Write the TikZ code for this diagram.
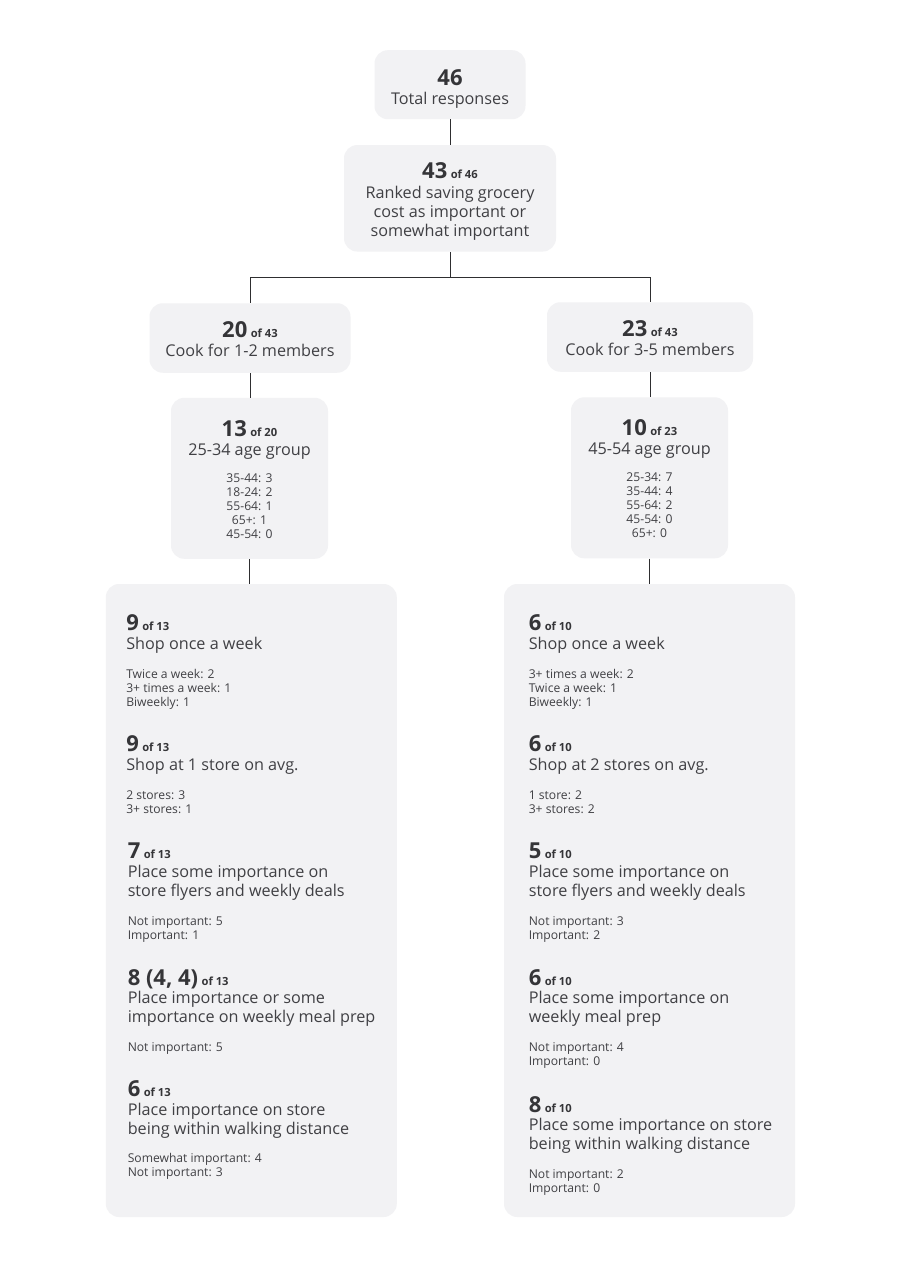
\documentclass[tikz,border=0pt]{standalone}
\usepackage{fontspec}
\setmainfont{Open Sans}
\definecolor{boxfill}{HTML}{F2F2F4}
\definecolor{numcol}{HTML}{353538}
\definecolor{txtcol}{HTML}{404044}
\definecolor{linecol}{HTML}{2E2E30}
\newcommand\numf{\bfseries\fontsize{16.5}{18}\selectfont}
\newcommand\offf{\bfseries\fontsize{8.4}{10}\selectfont}
\newcommand\ttlf{\fontsize{12.15}{14}\selectfont}
\newcommand\detf{\fontsize{9.1}{10}\selectfont}
\newcommand\nofm[2]{{\numf #1}\hspace{2.6pt}{\offf of #2}}
\begin{document}
\begin{tikzpicture}[x=0.75pt,y=-0.75pt,
  box/.style={fill=boxfill, draw=none, rounded corners=10pt, inner sep=0pt},
  conn/.style={draw=linecol, line width=0.75pt},
  numtxt/.style={text=numcol, inner sep=0pt, anchor=base},
  ttl/.style={text=txtcol, inner sep=0pt, anchor=base, font=\ttlf},
  det/.style={text=txtcol, inner sep=0pt, anchor=base, font=\detf},
  numl/.style={numtxt, anchor=base west},
  ttll/.style={ttl, anchor=base west},
  detl/.style={det, anchor=base west}]
\useasboundingbox (0,0) rectangle (900,1270);
\fill[white] (0,0) rectangle (900,1270);
% boxes
\node[box, minimum width={151*0.75pt}, minimum height={69*0.75pt}] (A) at (450,84.7) {};
\node[box, minimum width={212*0.75pt}, minimum height={106.5*0.75pt}] (B) at (450,198.3) {};
\node[box, minimum width={201*0.75pt}, minimum height={69.5*0.75pt}] (C) at (250,338) {};
\node[box, minimum width={206*0.75pt}, minimum height={69.5*0.75pt}] (D) at (650,337) {};
\node[box, minimum width={157*0.75pt}, minimum height={161*0.75pt}] (E) at (249.5,478.3) {};
\node[box, minimum width={157*0.75pt}, minimum height={161*0.75pt}] (F) at (649.5,477.8) {};
\node[box, minimum width={291*0.75pt}, minimum height={633*0.75pt}] (G) at (251.3,900.5) {};
\node[box, minimum width={291*0.75pt}, minimum height={633*0.75pt}] (H) at (649.5,900.5) {};
% connectors
\coordinate (fork) at (450,277);
\draw[conn] (A.south) -- (B.north);
\draw[conn] (B.south) -- (fork) -| (C.north);
\draw[conn] (fork) -| (D.north);
\draw[conn] (C.south) -- (C.south |- E.north);
\draw[conn] (D.south) -- (D.south |- F.north);
\draw[conn] (E.south) -- (E.south |- G.north);
\draw[conn] (F.south) -- (F.south |- H.north);
% box A
\node[numtxt] (a1) at (450,85) {\numf 46};
\node[ttl] (a2) at (450,104) {Total responses};
% box B
\node[numtxt] (b1) at (450,178) {\nofm{43}{46}};
\node[ttl] (b2) at (450,198) {Ranked saving grocery};
\node[ttl] (b3) at (450,217.3) {cost as important or};
\node[ttl] (b4) at (450,236) {somewhat important};
% box C, D
\node[numtxt] (c1) at (250,337.7) {\nofm{20}{43}};
\node[ttl] (c2) at (250,356.7) {Cook for 1-2 members};
\node[numtxt] (d1) at (650,336) {\nofm{23}{43}};
\node[ttl] (d2) at (650,355) {Cook for 3-5 members};
% box E
\node[numtxt] (e1) at (249.5,436) {\nofm{13}{20}};
\node[ttl] (e2) at (249.5,455.7) {25-34 age group};
\node[det] (e3) at (249.5,482.3) {35-44: 3};
\node[det] (e4) at (249.5,496.3) {18-24: 2};
\node[det] (e5) at (249.5,510.3) {55-64: 1};
\node[det] (e6) at (249.5,524.3) {65+: 1};
\node[det] (e7) at (249.5,538.3) {45-54: 0};
% box F
\node[numtxt] (f1) at (649.5,435.3) {\nofm{10}{23}};
\node[ttl] (f2) at (649.5,454.3) {45-54 age group};
\node[det] (f3) at (649.5,481) {25-34: 7};
\node[det] (f4) at (649.5,495) {35-44: 4};
\node[det] (f5) at (649.5,509) {55-64: 2};
\node[det] (f6) at (649.5,523) {45-54: 0};
\node[det] (f7) at (649.5,537) {65+: 0};
% box G
\node[numl] (g1) at (126,630.7) {\nofm{9}{13}};
\node[ttll] (g2) at (126,649.3) {Shop once a week};
\node[detl] (g3) at (126,678.3) {Twice a week: 2};
\node[detl] (g4) at (126,692.3) {3+ times a week: 1};
\node[detl] (g5) at (126,706.3) {Biweekly: 1};
\node[numl] (g6) at (126,751.7) {\nofm{9}{13}};
\node[ttll] (g7) at (126,770) {Shop at 1 store on avg.};
\node[detl] (g8) at (126,799) {2 stores: 3};
\node[detl] (g9) at (126,813) {3+ stores: 1};
\node[numl] (g10) at (127.5,858.3) {\nofm{7}{13}};
\node[ttll] (g11) at (127.5,877.7) {Place some importance on};
\node[ttll] (g12) at (127.5,896.7) {store flyers and weekly deals};
\node[detl] (g13) at (127.5,925) {Not important: 5};
\node[detl] (g14) at (127.5,939) {Important: 1};
\node[numl] (g15) at (127.5,985) {\nofm{8 (4, 4)}{13}};
\node[ttll] (g16) at (127.5,1003.3) {Place importance or some};
\node[ttll] (g17) at (127.5,1022.3) {importance on weekly meal prep};
\node[detl] (g18) at (127.5,1051) {Not important: 5};
\node[numl] (g19) at (127.5,1096.7) {\nofm{6}{13}};
\node[ttll] (g20) at (127.5,1115) {Place importance on store};
\node[ttll] (g21) at (127.5,1134) {being within walking distance};
\node[detl] (g22) at (127.5,1162.7) {Somewhat important: 4};
\node[detl] (g23) at (127.5,1176.7) {Not important: 3};
% box H
\node[numl] (h1) at (528.5,630.7) {\nofm{6}{10}};
\node[ttll] (h2) at (528.5,649.3) {Shop once a week};
\node[detl] (h3) at (528.5,678.3) {3+ times a week: 2};
\node[detl] (h4) at (528.5,692.3) {Twice a week: 1};
\node[detl] (h5) at (528.5,706.3) {Biweekly: 1};
\node[numl] (h6) at (528.5,751.7) {\nofm{6}{10}};
\node[ttll] (h7) at (528.5,770) {Shop at 2 stores on avg.};
\node[detl] (h8) at (528.5,799) {1 store: 2};
\node[detl] (h9) at (528.5,813) {3+ stores: 2};
\node[numl] (h10) at (528.5,858.3) {\nofm{5}{10}};
\node[ttll] (h11) at (528.5,877.7) {Place some importance on};
\node[ttll] (h12) at (528.5,896.7) {store flyers and weekly deals};
\node[detl] (h13) at (528.5,925) {Not important: 3};
\node[detl] (h14) at (528.5,939) {Important: 2};
\node[numl] (h15) at (528.5,985) {\nofm{6}{10}};
\node[ttll] (h16) at (528.5,1003.3) {Place some importance on};
\node[ttll] (h17) at (528.5,1022.3) {weekly meal prep};
\node[detl] (h18) at (528.5,1051) {Not important: 4};
\node[detl] (h19) at (528.5,1065) {Important: 0};
\node[numl] (h20) at (528.5,1112) {\nofm{8}{10}};
\node[ttll] (h21) at (528.5,1130.7) {Place some importance on store};
\node[ttll] (h22) at (528.5,1149.7) {being within walking distance};
\node[detl] (h23) at (528.5,1178) {Not important: 2};
\node[detl] (h24) at (528.5,1192) {Important: 0};
\end{tikzpicture}
\end{document}
